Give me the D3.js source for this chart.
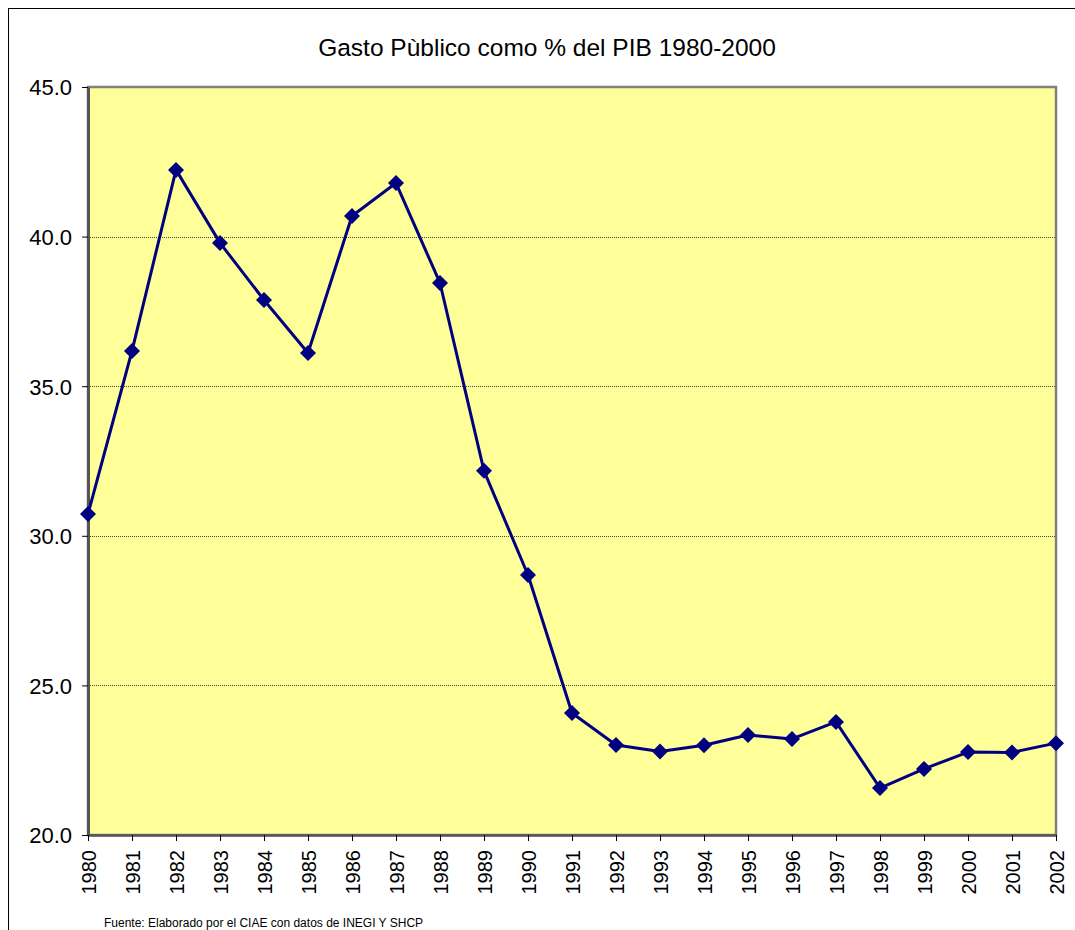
<!DOCTYPE html>
<html>
<head>
<meta charset="utf-8">
<script src="https://cdn.jsdelivr.net/npm/d3@7"></script>
<style>
  html, body { margin: 0; padding: 0; background: #fff; }
  svg { display: block; font-family: "Liberation Sans", Arial, sans-serif; }
</style>
</head>
<body>
<svg id="chart" width="1075" height="930"></svg>
<script>
const years = ["1980","1981","1982","1983","1984","1985","1986","1987","1988","1989","1990","1991","1992","1993","1994","1995","1996","1997","1998","1999","2000","2001","2002"];
const gastoPIB = [30.73, 36.18, 42.23, 39.79, 37.88, 36.11, 40.69, 41.79, 38.45, 32.17, 28.69, 24.08, 23.01, 22.79, 23.0, 23.34, 23.21, 23.78, 21.57, 22.21, 22.77, 22.76, 23.07];
const yTicks = [20, 25, 30, 35, 40, 45];
const titleText = "Gasto Pùblico como % del PIB 1980-2000";
const sourceText = "Fuente: Elaborado por el CIAE con datos de INEGI Y SHCP";

const svg = d3.select("#chart");
const plot = { left: 88, top: 87, right: 1056, bottom: 835 };
const FONT = "'Liberation Sans', Arial, sans-serif";

// outer chart border (extends past the window)
svg.append("rect").attr("x", 8.5).attr("y", 8.5).attr("width", 1100).attr("height", 960)
  .attr("fill", "#fff").attr("stroke", "#000").attr("stroke-width", 1);

const x = d3.scalePoint().domain(years).range([plot.left, plot.right]);
const y = d3.scaleLinear().domain([20, 45]).range([plot.bottom, plot.top]);

// plot area
svg.append("rect").attr("x", plot.left).attr("y", plot.top)
  .attr("width", plot.right - plot.left).attr("height", plot.bottom - plot.top)
  .attr("fill", "#FFFF99");

// gridlines
svg.append("g").selectAll("line").data(yTicks.filter(d => d > 20 && d < 45)).join("line")
  .attr("x1", plot.left).attr("x2", plot.right)
  .attr("y1", d => Math.round(y(d)) + 0.5).attr("y2", d => Math.round(y(d)) + 0.5)
  .attr("stroke", "#444").attr("stroke-width", 1).attr("stroke-dasharray", "1,1");

// plot border
svg.append("rect").attr("x", plot.left).attr("y", plot.top)
  .attr("width", plot.right - plot.left).attr("height", plot.bottom - plot.top)
  .attr("fill", "none").attr("stroke", "#808080").attr("stroke-width", 2.5);

// y axis
const yAxis = d3.axisLeft(y).tickValues(yTicks).tickFormat(d3.format(".1f")).tickSize(6).tickSizeOuter(0);
const gy = svg.append("g").attr("transform", `translate(${plot.left},0)`).call(yAxis);
gy.select(".domain").attr("stroke", "#555").attr("stroke-width", 3);
gy.selectAll(".tick line").attr("stroke", "#000");
gy.selectAll(".tick text").attr("font-size", 22).attr("fill", "#000")
  .attr("font-family", FONT).attr("x", -16).attr("dy", "0.36em");

// x axis
const xAxis = d3.axisBottom(x).tickSize(6).tickSizeOuter(0);
const gx = svg.append("g").attr("transform", `translate(0,${plot.bottom})`).call(xAxis);
gx.select(".domain").attr("stroke", "#555").attr("stroke-width", 2.5);
gx.selectAll(".tick line").attr("stroke", "#000");
gx.selectAll(".tick text").attr("font-size", 20).attr("fill", "#000")
  .attr("font-family", FONT)
  .attr("transform", "rotate(-90)")
  .attr("x", -15).attr("y", 0).attr("dy", "0.35em")
  .attr("text-anchor", "end");

// line
const line = d3.line().x((d, i) => x(years[i])).y(d => y(d));
svg.append("path").datum(gastoPIB).attr("d", line)
  .attr("fill", "none").attr("stroke", "#000080").attr("stroke-width", 3).attr("stroke-linejoin", "round");

// markers
svg.append("g").selectAll("path").data(gastoPIB).join("path")
  .attr("transform", (d, i) => `translate(${x(years[i])},${y(d)})`)
  .attr("d", "M0,-8L8,0L0,8L-8,0Z")
  .attr("fill", "#000080");

// title
svg.append("text").attr("x", 547).attr("y", 56).attr("text-anchor", "middle")
  .attr("font-size", 24.5).attr("fill", "#000").attr("font-family", FONT).text(titleText);

// source
svg.append("text").attr("x", 104).attr("y", 927)
  .attr("font-size", 12).attr("fill", "#000").attr("font-family", FONT).text(sourceText);
</script>
</body>
</html>
